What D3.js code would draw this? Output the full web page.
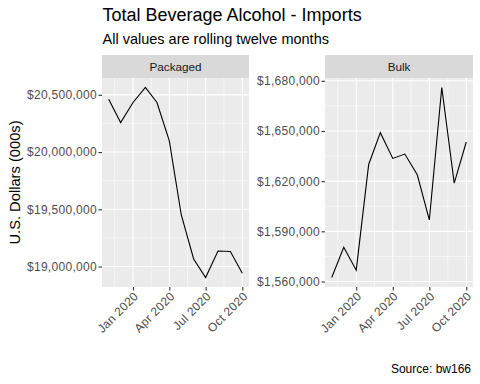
<!DOCTYPE html>
<html><head><meta charset="utf-8">
<script src="https://cdn.jsdelivr.net/npm/d3@7"></script>
<style>body{margin:0;background:#fff}svg{display:block;font-family:"Liberation Sans",Arial,sans-serif}</style>
</head><body>
<script>
const months = ["2019-11-01","2019-12-01","2020-01-01","2020-02-01","2020-03-01","2020-04-01","2020-05-01","2020-06-01","2020-07-01","2020-08-01","2020-09-01","2020-10-01"];
const packaged = [20462000,20258000,20433000,20564000,20433000,20098000,19450000,19066000,18904000,19135000,19131000,18942000];
const bulk = [1562400,1580500,1566800,1630000,1649000,1633600,1636200,1623800,1596800,1676000,1618800,1643400];
const packagedTicks = [19000000,19500000,20000000,20500000];
const bulkTicks = [1560000,1590000,1620000,1650000,1680000];
const xTicks = ["2020-01-01","2020-04-01","2020-07-01","2020-10-01"];
const xTickLabels = ["Jan 2020","Apr 2020","Jul 2020","Oct 2020"];

const W=480,H=384;
const svg=d3.select("body").append("svg").attr("width",W).attr("height",H);
svg.append("rect").attr("width",W).attr("height",H).attr("fill","#fff");
const parse=d3.timeParse("%Y-%m-%d");
const dates=months.map(parse);
const fmt=d=>"$"+d3.format(",")(d);

svg.append("text").attr("x",102.5).attr("y",20.7).attr("font-size",18).attr("fill","#000").text("Total Beverage Alcohol - Imports");
svg.append("text").attr("x",102.5).attr("y",43.8).attr("font-size",14.5).attr("fill","#000").text("All values are rolling twelve months");
svg.append("text").attr("transform","translate(20,182.5) rotate(-90)").attr("text-anchor","middle").attr("font-size",14.7).attr("fill","#000").text("U.S. Dollars (000s)");
svg.append("text").attr("x",471).attr("y",373).attr("text-anchor","end").attr("font-size",12).attr("fill","#000").text("Source: bw166");

function panel(x0,x1,y0,y1,title,vals,ticks,minorStep){
  const g=svg.append("g");
  g.append("rect").attr("x",x0).attr("y",55).attr("width",x1-x0).attr("height",y0-55).attr("fill","#D9D9D9");
  g.append("text").attr("x",(x0+x1)/2).attr("y",(55+y0)/2+4).attr("text-anchor","middle").attr("font-size",11.7).attr("fill","#1A1A1A").text(title);
  g.append("rect").attr("x",x0).attr("y",y0).attr("width",x1-x0).attr("height",y1-y0).attr("fill","#EBEBEB");
  const dmin=dates[0],dmax=dates[dates.length-1],span=dmax-dmin;
  const x=d3.scaleTime().domain([new Date(+dmin-0.05*span),new Date(+dmax+0.05*span)]).range([x0,x1]);
  const [vmin,vmax]=d3.extent(vals),vr=vmax-vmin;
  const y=d3.scaleLinear().domain([vmin-0.05*vr,vmax+0.05*vr]).range([y1,y0]);
  const xt=xTicks.map(parse);
  const xminor=[];
  const first=new Date(xt[0]);first.setMonth(first.getMonth()-3);
  const last=new Date(xt[xt.length-1]);last.setMonth(last.getMonth()+3);
  const allMaj=[first,...xt,last];
  for(let i=0;i<allMaj.length-1;i++)xminor.push(new Date((+allMaj[i]+ +allMaj[i+1])/2));
  const [dl,dr]=x.domain();
  g.selectAll(null).data(xminor.filter(d=>d>=dl&&d<=dr)).enter().append("line")
    .attr("x1",d=>x(d)).attr("x2",d=>x(d)).attr("y1",y0).attr("y2",y1).attr("stroke","#fff").attr("stroke-width",0.55);
  const yminor=[];
  for(let v=ticks[0]-minorStep;v<=ticks[ticks.length-1]+minorStep;v+=minorStep*2){yminor.push(v);}
  const [yl,yh]=y.domain();
  g.selectAll(null).data(yminor.filter(v=>v>=yl&&v<=yh)).enter().append("line")
    .attr("x1",x0).attr("x2",x1).attr("y1",d=>y(d)).attr("y2",d=>y(d)).attr("stroke","#fff").attr("stroke-width",0.55);
  g.selectAll(null).data(xt).enter().append("line")
    .attr("x1",d=>x(d)).attr("x2",d=>x(d)).attr("y1",y0).attr("y2",y1).attr("stroke","#fff").attr("stroke-width",1.1);
  g.selectAll(null).data(ticks).enter().append("line")
    .attr("x1",x0).attr("x2",x1).attr("y1",d=>y(d)).attr("y2",d=>y(d)).attr("stroke","#fff").attr("stroke-width",1.1);
  g.append("path").datum(vals).attr("fill","none").attr("stroke","#000").attr("stroke-width",1.1)
    .attr("d",d3.line().x((d,i)=>x(dates[i])).y(d=>y(d)));
  const ya=g.append("g").attr("transform",`translate(${x0},0)`).call(d3.axisLeft(y).tickValues(ticks).tickFormat(fmt).tickSize(3.5).tickPadding(1.5));
  ya.select(".domain").remove();
  ya.selectAll("line").attr("stroke","#333").attr("stroke-width",1.1);
  ya.selectAll("text").attr("fill","#4D4D4D").attr("font-size",12).attr("letter-spacing",0.3).attr("font-family","Liberation Sans, Arial, sans-serif");
  const xa=g.append("g").attr("transform",`translate(0,${y1})`).call(d3.axisBottom(x).tickValues(xt).tickFormat((d,i)=>xTickLabels[i]).tickSize(3.5).tickPadding(2));
  xa.select(".domain").remove();
  xa.selectAll("line").attr("stroke","#333").attr("stroke-width",1.1);
  xa.selectAll("text").attr("fill","#4D4D4D").attr("font-size",12).attr("letter-spacing",0.3).attr("font-family","Liberation Sans, Arial, sans-serif")
    .attr("text-anchor","end").attr("dy",null).attr("y",0).attr("transform","translate(5.5,10) rotate(-45)");
}
panel(102,249,78,287,"Packaged",packaged,packagedTicks,250000);
panel(325,473,78,287,"Bulk",bulk,bulkTicks,15000);
</script>
</body></html>
